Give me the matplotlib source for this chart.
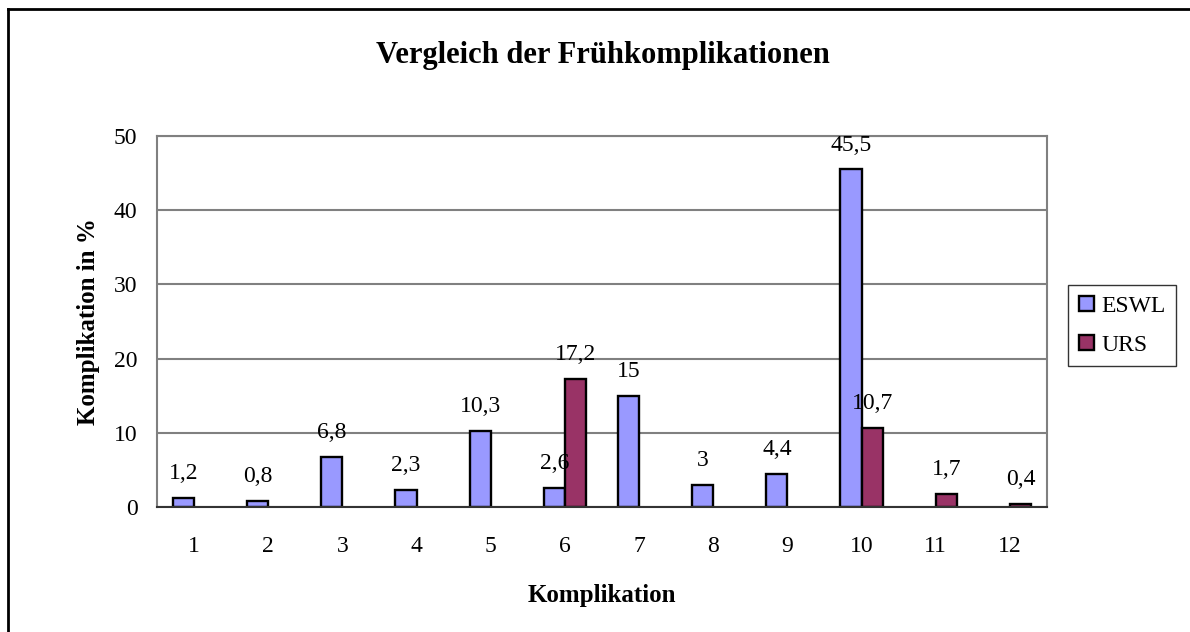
import matplotlib.pyplot as plt
from matplotlib.patches import Patch
import numpy as np

# chart data
categories = ["1", "2", "3", "4", "5", "6", "7", "8", "9", "10", "11", "12"]
eswl = [1.2, 0.8, 6.8, 2.3, 10.3, 2.6, 15, 3, 4.4, 45.5, 0, 0]
urs = [0, 0, 0, 0, 0, 17.2, 0, 0, 0, 10.7, 1.7, 0.4]
y_ticks = [0, 10, 20, 30, 40, 50]
c_eswl = '#9999FF'
c_urs = '#993366'

plt.rcParams['font.family'] = ['Liberation Serif', 'DejaVu Serif']

fig = plt.figure(figsize=(11.9, 6.32), dpi=100)
ax = fig.add_axes([157 / 1190, 125 / 632, 890 / 1190, 371 / 632])

x = np.arange(len(categories))
w = 1 / 3.5  # Excel gap width 150%
bars1 = ax.bar(x - w / 2, eswl, w, color=c_eswl, edgecolor='black', linewidth=1.7)
bars2 = ax.bar(x + w / 2, urs, w, color=c_urs, edgecolor='black', linewidth=1.7)

# value labels, only for non-zero values; empty bars are hidden
for bars, vals in ((bars1, eswl), (bars2, urs)):
    for b, v in zip(bars, vals):
        if v > 0:
            ax.annotate(f"{v:g}".replace('.', ','), (b.get_x() + b.get_width() / 2, v),
                        xytext=(0, 10), textcoords='offset points',
                        ha='center', va='bottom', fontsize=17)
        else:
            b.set_visible(False)

ax.set_xlim(-0.5, len(categories) - 0.5)
ax.set_ylim(0, 50)
ax.set_xticks(x)
ax.set_xticklabels(categories)
ax.set_yticks(y_ticks)
ax.tick_params(length=0, labelsize=17)
ax.tick_params(axis='x', pad=21)
ax.tick_params(axis='y', pad=14)
ax.yaxis.grid(True, color='#808080', linewidth=1.5)
ax.set_axisbelow(True)
for s in ax.spines.values():
    s.set_color('#808080')
    s.set_linewidth(1.5)
ax.spines['bottom'].set_color('#333333')

ax.set_xlabel("Komplikation", fontsize=18, fontweight='bold', labelpad=19)
ax.set_ylabel("Komplikation in %", fontsize=18, fontweight='bold', labelpad=10)
fig.text(603 / 1190, 1 - 55 / 632, "Vergleich der Frühkomplikationen",
         ha='center', va='center', fontsize=22, fontweight='bold')

handles = [Patch(facecolor=c_eswl, edgecolor='black', linewidth=1.7, label='ESWL'),
           Patch(facecolor=c_urs, edgecolor='black', linewidth=1.7, label='URS')]
leg = ax.legend(handles=handles, loc='upper left', bbox_to_anchor=(1068 / 1190, 1 - 285 / 632),
                bbox_transform=fig.transFigure, borderaxespad=0, fontsize=17,
                frameon=True, fancybox=False, edgecolor='#333333', framealpha=1,
                handlelength=0.65, handleheight=0.65, handletextpad=0.3,
                borderpad=0.45, labelspacing=0.75)
leg.get_frame().set_linewidth(1)

# chart frame (only top and left edges visible in the crop)
fig.add_artist(plt.Line2D([8 / 1190, 8 / 1190], [0, 1 - 9 / 632], color='black', linewidth=2))
fig.add_artist(plt.Line2D([8 / 1190, 1], [1 - 9 / 632, 1 - 9 / 632], color='black', linewidth=2))

fig.savefig('out.png', dpi=100)
